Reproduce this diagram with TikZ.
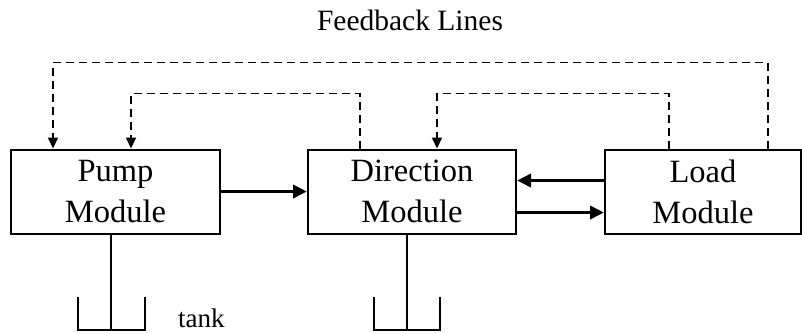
\documentclass[tikz,border=0pt]{standalone}
\usepackage{fontspec}
\setmainfont{Liberation Serif}
\usetikzlibrary{arrows.meta,calc}
\begin{document}
\begin{tikzpicture}[x=1pt,y=-1pt,
  box/.style={draw,line width=2pt,minimum height=84pt,inner sep=0pt,align=center,font=\fontsize{32.5}{41}\selectfont},
  flow/.style={line width=3.8pt,-{Triangle[length=14pt,width=13pt]}},
  fb/.style={line width=1.9pt,dash pattern=on 8pt off 5pt,-{Triangle[length=11pt,width=10pt]}},
  pipe/.style={line width=2pt},
  lbl/.style={font=\fontsize{29.5}{34}\selectfont,inner sep=0pt}]
\useasboundingbox (0,0) rectangle (802,333);
% title
\node[lbl,anchor=base] (title) at (410,30) {Feedback Lines};
% boxes
\node[box,minimum width=209pt] (pump) at (115.5,191.5) {Pump\\Module};
\node[box,minimum width=208pt] (dir) at (412,191.5) {Direction\\Module};
\node[box,minimum width=196pt] (load) at (703,191.5) {Load\\Module};
% flow arrows
\draw[flow] (pump) -- (dir);
\draw[flow] ([yshift=11pt]load.west) -- ([yshift=11pt]dir.east);
\draw[flow] ([yshift=-21pt]dir.east) -- ([yshift=-21pt]load.west);
% feedback lines
\draw[fb] ($(load.north west)+(164,0)$) -- ++(0,-86) -| ($(pump.north west)+(43,0)$);
\draw[fb] ($(dir.north west)+(53,0)$) -- ++(0,-55) -| ($(pump.north west)+(121,0)$);
\draw[fb] ($(load.north west)+(65,0)$) -- ++(0,-55) -| ($(dir.north west)+(130,0)$);
% tanks
\coordinate (tankA) at (111,330);
\coordinate (tankB) at (407,330);
\draw[pipe] ([xshift=-4.5pt]pump.south) -- (tankA);
\draw[pipe] ($(tankA)+(-33,-33)$) |- ($(tankA)+(34,0)$) -- ++(0,-33);
\draw[pipe] ([xshift=-5pt]dir.south) -- (tankB);
\draw[pipe] ($(tankB)+(-33,-33)$) |- ($(tankB)+(33,0)$) -- ++(0,-33);
\node[lbl,font=\fontsize{27}{32}\selectfont,anchor=base west] (tanklbl) at (178,327.5) {tank};
\end{tikzpicture}
\end{document}
